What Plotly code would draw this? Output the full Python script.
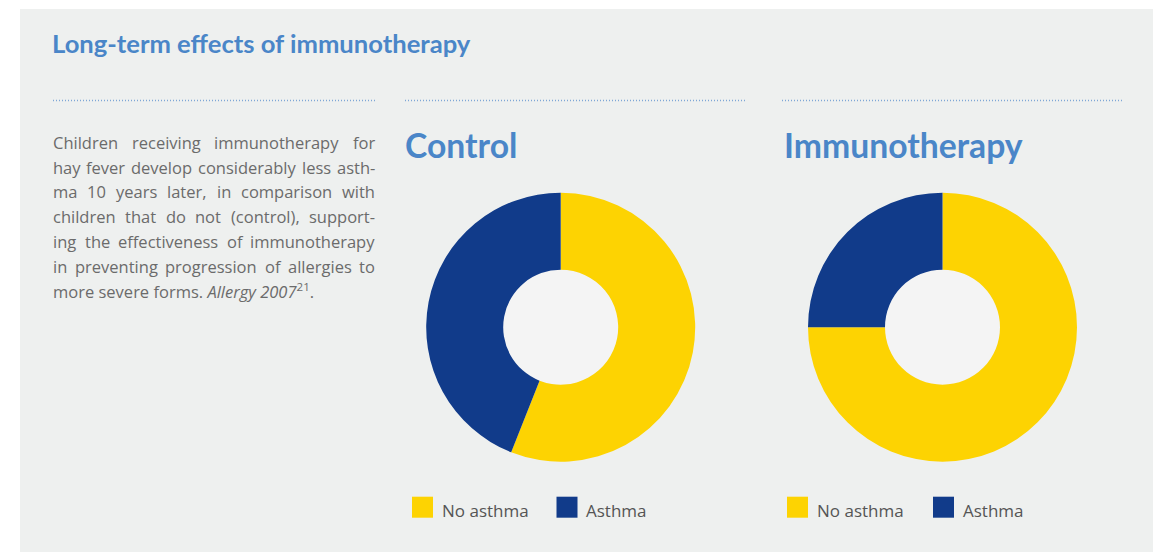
import plotly.graph_objects as go

# page body has an 8px margin; the figure is placed at (8, 8)
OFF = 8
W, H = 1161 - OFF, 552 - OFF

# ---- data ----
categories = ["No asthma", "Asthma"]
control_values = [56, 44]
immuno_values = [75, 25]
group_titles = ["Control", "Immunotherapy"]
colors = ["#FDD302", "#113B8A"]

main_title = "Long-term effects of immunotherapy"
para_lines = [
    "Children receiving immunotherapy for",
    "hay fever develop considerably less asth-",
    "ma 10 years later, in comparison with",
    "children that do not (control), support-",
    "ing the effectiveness of immunotherapy",
    "in preventing progression of allergies to",
]
para_last = "more severe forms. <i>Allergy 2007</i><sup>21</sup>."


def px(x):
    return (x - OFF) / W


def py(y):
    return 1 - (y - OFF) / H


# approximate Open Sans advance widths (em)
CW = {'a': .556, 'b': .613, 'c': .476, 'd': .613, 'e': .561, 'f': .339, 'g': .548, 'h': .614,
      'i': .253, 'j': .253, 'k': .524, 'l': .253, 'm': .930, 'n': .614, 'o': .604, 'p': .613,
      'q': .613, 'r': .408, 's': .477, 't': .353, 'u': .614, 'v': .501, 'w': .778, 'x': .520,
      'y': .501, 'z': .468, ' ': .26, '-': .322, '(': .297, ')': .297, ',': .245, '.': .266,
      'C': .633, 'A': .633, '0': .572, '1': .572, '2': .572, '7': .572}


def tw(s, size):
    return sum(CW.get(c, .56) for c in s) * size


fig = go.Figure()

# pies
centers = [(560.7, 327.2), (942.5, 327.2)]
R = 134.5
r_in = 57.5
for (cx, cy), vals, t in zip(centers, [control_values, immuno_values], group_titles):
    fig.add_trace(go.Pie(
        labels=categories, values=vals, name=t,
        marker=dict(colors=colors, line=dict(width=0)),
        hole=r_in / R, sort=False, direction="clockwise", rotation=0,
        textinfo="none", hoverinfo="label+percent", showlegend=False,
        domain=dict(x=[px(cx - R), px(cx + R)], y=[py(cy + R), py(cy - R)]),
    ))

shapes = []
# gray panel
shapes.append(dict(type="rect", xref="paper", yref="paper", x0=px(20), x1=1.01, y0=-0.01, y1=py(9),
                   fillcolor="#EEF0EF", line=dict(width=0), layer="below"))
# donut holes
for cx, cy in centers:
    shapes.append(dict(type="circle", xref="paper", yref="paper",
                       x0=px(cx - r_in), x1=px(cx + r_in), y0=py(cy + r_in), y1=py(cy - r_in),
                       fillcolor="#F4F4F4", line=dict(width=0), layer="below"))
# dotted separators
for x0, x1 in [(53, 375), (405, 747), (782, 1124)]:
    shapes.append(dict(type="line", xref="paper", yref="paper", x0=px(x0), x1=px(x1),
                       y0=py(100.5), y1=py(100.5),
                       line=dict(color="#7FA7D6", width=1.5, dash="1px,2px")))

annotations = []
BLUE_T = "#4A86C8"
annotations.append(dict(text=f"<b>{main_title}</b>", x=px(50), y=py(43), xref="paper", yref="paper",
                        xanchor="left", yanchor="middle", showarrow=False,
                        font=dict(family="Lato", size=25.6, color=BLUE_T)))
for t, x0 in zip(group_titles, [403, 782]):
    annotations.append(dict(text=f"<b>{t}</b>", x=px(x0), y=py(145), xref="paper", yref="paper",
                            xanchor="left", yanchor="middle", showarrow=False,
                            font=dict(family="Lato", size=33.7, color=BLUE_T)))

# paragraph (justified by placing words)
PS = 16.5
TXT = "#6B6B6B"
LEFT, RIGHT = 51, 373
for i, line in enumerate(para_lines):
    ymid = 142.3 + 24.8 * i
    words = line.split(" ")
    widths = [tw(w_, PS) for w_ in words]
    gap = (RIGHT - LEFT - sum(widths)) / (len(words) - 1)
    x = LEFT
    for w_, wd in zip(words, widths):
        annotations.append(dict(text=w_, x=px(x), y=py(ymid), xref="paper", yref="paper",
                                xanchor="left", yanchor="middle", showarrow=False,
                                font=dict(family="Open Sans", size=PS, color=TXT)))
        x += wd + gap
annotations.append(dict(text=para_last, x=px(LEFT), y=py(142.3 + 24.8 * 6), xref="paper", yref="paper",
                        xanchor="left", yanchor="middle", showarrow=False,
                        font=dict(family="Open Sans", size=PS, color=TXT)))

# legends
leg_pos = [(412, 556.5), (787, 933)]
for (xa, xb) in leg_pos:
    for xs, lab, col in zip([xa, xb], categories, colors):
        shapes.append(dict(type="rect", xref="paper", yref="paper",
                           x0=px(xs), x1=px(xs + 21), y0=py(517.7), y1=py(496.7),
                           fillcolor=col, line=dict(width=0)))
        annotations.append(dict(text=lab, x=px(xs + 27.5), y=py(510.5), xref="paper", yref="paper",
                                xanchor="left", yanchor="middle", showarrow=False,
                                font=dict(family="Open Sans", size=17, color="#555555")))

fig.update_layout(width=W, height=H, margin=dict(l=0, r=0, t=0, b=0),
                  paper_bgcolor="white", plot_bgcolor="white",
                  shapes=shapes, annotations=annotations)

fig.write_html("out.html")
